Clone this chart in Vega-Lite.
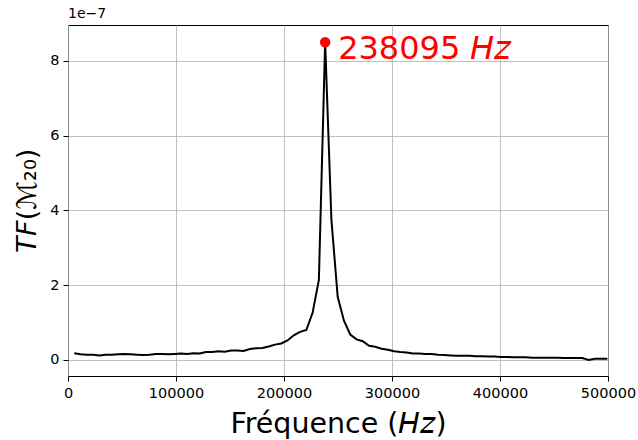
{
  "$schema": "https://vega.github.io/schema/vega-lite/v6.json",
  "autosize": "none",
  "width": 540,
  "height": 351,
  "padding": {"left": 68, "top": 25, "right": 30, "bottom": 64},
  "background": "white",
  "config": {
    "font": "DejaVu Sans",
    "view": {"stroke": "black", "strokeWidth": 1},
    "axis": {
      "gridColor": "#b0b0b0", "gridWidth": 0.8, "gridOpacity": 1,
      "domain": false, "tickColor": "black", "tickSize": 5, "tickWidth": 1,
      "labelFont": "DejaVu Sans", "labelFontSize": 14.5, "labelColor": "black",
      "labelOverlap": false, "labelBound": false, "labelFlush": false,
      "titleFont": "DejaVu Sans", "titleFontWeight": "normal", "titleColor": "black", "titleFontSize": 27
    }
  },
  "title": {"text": "1e−7", "anchor": "start", "frame": "group", "fontSize": 14, "fontWeight": "normal", "font": "DejaVu Sans", "offset": 4, "color": "black"},
  "data": {"values": [
    {"f": 5807, "v": 0.18}, {"f": 11615, "v": 0.15}, {"f": 17422, "v": 0.14}, {"f": 23229, "v": 0.14},
    {"f": 29037, "v": 0.12}, {"f": 34844, "v": 0.14}, {"f": 40651, "v": 0.14}, {"f": 46458, "v": 0.15},
    {"f": 52266, "v": 0.16}, {"f": 58073, "v": 0.15}, {"f": 63880, "v": 0.14}, {"f": 69688, "v": 0.13},
    {"f": 75495, "v": 0.14}, {"f": 81302, "v": 0.16}, {"f": 87109, "v": 0.16}, {"f": 92917, "v": 0.15},
    {"f": 98724, "v": 0.16}, {"f": 104531, "v": 0.17}, {"f": 110339, "v": 0.16}, {"f": 116146, "v": 0.18},
    {"f": 121953, "v": 0.17}, {"f": 127760, "v": 0.21}, {"f": 133568, "v": 0.21}, {"f": 139375, "v": 0.23},
    {"f": 145182, "v": 0.22}, {"f": 150990, "v": 0.25}, {"f": 156797, "v": 0.25}, {"f": 162604, "v": 0.24},
    {"f": 168411, "v": 0.29}, {"f": 174219, "v": 0.31}, {"f": 180026, "v": 0.32}, {"f": 185833, "v": 0.36},
    {"f": 191641, "v": 0.41}, {"f": 197448, "v": 0.44}, {"f": 203255, "v": 0.52}, {"f": 209062, "v": 0.66},
    {"f": 214870, "v": 0.75}, {"f": 220677, "v": 0.8}, {"f": 226484, "v": 1.26}, {"f": 232292, "v": 2.14},
    {"f": 238095, "v": 8.5}, {"f": 243902, "v": 3.75}, {"f": 249709, "v": 1.69}, {"f": 255517, "v": 1.05},
    {"f": 261324, "v": 0.68}, {"f": 267131, "v": 0.55}, {"f": 272939, "v": 0.5}, {"f": 278746, "v": 0.38},
    {"f": 284553, "v": 0.35}, {"f": 290360, "v": 0.3}, {"f": 296168, "v": 0.27}, {"f": 301975, "v": 0.23},
    {"f": 307782, "v": 0.21}, {"f": 313590, "v": 0.2}, {"f": 319397, "v": 0.17}, {"f": 325204, "v": 0.17},
    {"f": 331011, "v": 0.16}, {"f": 336819, "v": 0.16}, {"f": 342626, "v": 0.14}, {"f": 348433, "v": 0.13},
    {"f": 354241, "v": 0.12}, {"f": 360048, "v": 0.11}, {"f": 365855, "v": 0.11}, {"f": 371662, "v": 0.11},
    {"f": 377470, "v": 0.1}, {"f": 383277, "v": 0.1}, {"f": 389084, "v": 0.09}, {"f": 394892, "v": 0.09},
    {"f": 400699, "v": 0.08}, {"f": 406506, "v": 0.08}, {"f": 412313, "v": 0.07}, {"f": 418121, "v": 0.07},
    {"f": 423928, "v": 0.07}, {"f": 429735, "v": 0.06}, {"f": 435543, "v": 0.06}, {"f": 441350, "v": 0.06},
    {"f": 447157, "v": 0.06}, {"f": 452964, "v": 0.06}, {"f": 458772, "v": 0.05}, {"f": 464579, "v": 0.05},
    {"f": 470386, "v": 0.05}, {"f": 476194, "v": 0.05}, {"f": 482001, "v": 0.0}, {"f": 487808, "v": 0.03},
    {"f": 493615, "v": 0.03}, {"f": 499423, "v": 0.03}
  ]},
  "encoding": {
    "x": {"field": "f", "type": "quantitative",
      "scale": {"domain": [0, 500000], "nice": false, "zero": false},
      "axis": {"values": [0, 100000, 200000, 300000, 400000, 500000], "format": "d", "title": "Fréquence (𝘏𝘻)", "titleFontSize": 28.5, "titlePadding": 10, "labelPadding": 5}},
    "y": {"field": "v", "type": "quantitative",
      "scale": {"domain": [-0.43, 8.96], "nice": false, "zero": false},
      "axis": {"values": [0, 2, 4, 6, 8], "format": "d", "title": "𝘛𝘍(ℳ₂₀)", "titlePadding": 8, "labelPadding": 4}}
  },
  "layer": [
    {"mark": {"type": "line", "color": "black", "strokeWidth": 2, "clip": true}},
    {"transform": [{"filter": "datum.f == 238095"}],
     "mark": {"type": "point", "filled": true, "color": "red", "size": 110, "opacity": 1}},
    {"transform": [{"filter": "datum.f == 238095"}],
     "mark": {"type": "text", "color": "red", "fontSize": 32, "font": "DejaVu Sans", "align": "left", "baseline": "middle", "dx": 13, "dy": 7},
     "encoding": {"text": {"value": "238095 𝘏𝘻"}}}
  ]
}
